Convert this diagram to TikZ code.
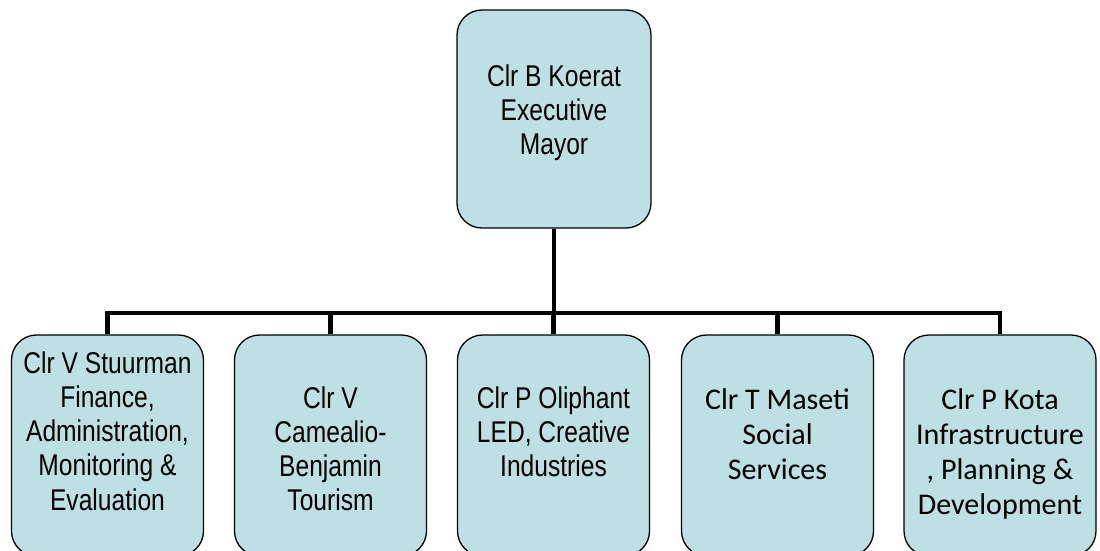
\documentclass[tikz,border=0pt]{standalone}
\usepackage{fontspec}
\newfontfamily\narrowfont{Liberation Sans}[FakeStretch=0.82]
\newfontfamily\calfont{Carlito}
\definecolor{boxfill}{RGB}{188,224,228}
% stacked, centred lines; the node's base anchor is the first line's baseline
\newcommand{\stacklines}[1]{\begin{tabular}[t]{@{}c@{}}#1\end{tabular}}
\tikzset{
  x=1pt, y=-1pt,
  office/.style={draw=black, line width=1.3pt, fill=boxfill,
    rounded corners=25pt, inner sep=0pt, minimum width=192pt},
  headbox/.style={office, minimum width=194pt, minimum height=218pt},
  portfolio/.style={office, minimum height=221pt},
  narrowtext/.style={anchor=base, inner sep=0pt,
    font=\narrowfont\fontsize{30}{34.3}\selectfont},
  caltext/.style={anchor=base, inner sep=0pt,
    font=\calfont\fontsize{30}{35.3}\selectfont},
  link/.style={line width=4.6pt, line join=miter, black}
}
\begin{document}
\begin{tikzpicture}
\path[use as bounding box, clip] (0,0) rectangle (1100,550);
\fill[white] (0,0) rectangle (1100,550);

% offices
\node[headbox]   (mayor) at (554,119)   {};
\node[portfolio] (b1)    at (107.5,445.5) {};
\node[portfolio] (b2)    at (330.5,445.5) {};
\node[portfolio] (b3)    at (553.5,445.5) {};
\node[portfolio] (b4)    at (777.5,445.5) {};
\node[portfolio] (b5)    at (1000,445.5)  {};

% office holders and portfolios
\node[narrowtext] (tmayor) at (554,86)
  {\stacklines{Clr B Koerat\\Executive\\Mayor}};
\node[narrowtext] (t1) at (107.5,373)
  {\stacklines{Clr V Stuurman\\Finance,\\Administration,\\Monitoring \&\\Evaluation}};
\node[narrowtext] (t2) at (330.5,408)
  {\stacklines{Clr V\\Camealio-\\Benjamin\\Tourism}};
\node[narrowtext] (t3) at (553.5,408)
  {\stacklines{Clr P Oliphant\\LED, Creative\\Industries}};
\node[caltext] (t4) at (777.5,409)
  {\stacklines{Clr T Maseti\\Social\\Services}};
\node[caltext] (t5) at (1000,409)
  {\stacklines{Clr P Kota\\Infrastructure\\, Planning \&\\Development}};

% reporting lines
\coordinate (bar) at (554,313);
\draw[link] (mayor.south) -- (bar);
\draw[link] (b1.north) |- (bar) -| (b5.north);
\draw[link] (b2.north) -- (b2.north |- bar);
\draw[link] (b3.north) -- (b3.north |- bar);
\draw[link] (b4.north) -- (b4.north |- bar);
\end{tikzpicture}
\end{document}
